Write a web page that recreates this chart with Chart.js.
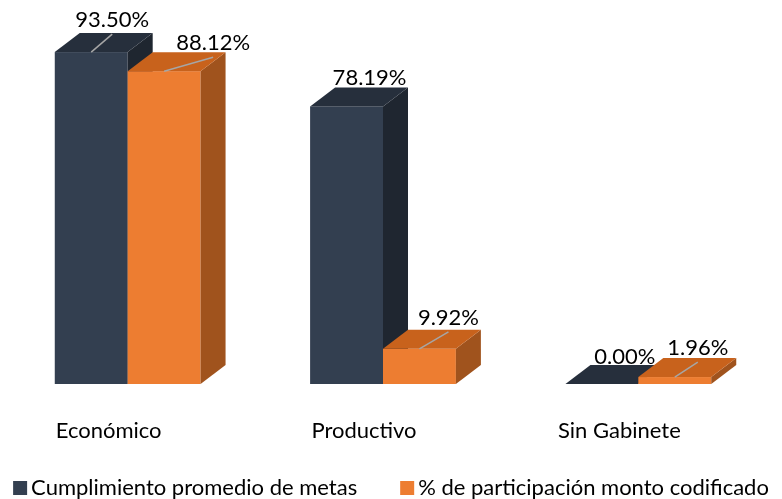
<!DOCTYPE html>
<html lang="es">
<head>
    <meta charset="UTF-8">
    <title>Cumplimiento por gabinete</title>
    <script src="https://cdn.jsdelivr.net/npm/chart.js"></script>
    <style>
        body { margin: 0; background: #fff; }
        #wrap { width: 782px; height: 499px; }
    </style>
</head>
<body>
    <div id="wrap"><canvas id="chart"></canvas></div>

    <script>
        const categories = ['Económico', 'Productivo', 'Sin Gabinete'];
        const cumplimiento = [93.50, 78.19, 0.00];
        const participacion = [88.12, 9.92, 1.96];
        const seriesNames = ['Cumplimiento promedio de metas', '% de participación monto codificado'];

        const FONT = 'Lato, "Open Sans", sans-serif';

        // colores de cada serie: frente, tapa, costado
        const faces = [
            { front: '#333f50', top: '#262f3c', side: '#1f2630' },
            { front: '#ed7d31', top: '#c8621c', side: '#a0531d' }
        ];
        const DEPTH_X = 25, DEPTH_Y = 19;

        // desplazamiento de cada etiqueta respecto al centro/tope de la barra, y si lleva línea guía
        const labelShift = [
            [[21, -32, true], [23, -29, false], [23, -27, false]],
            [[49, -28, true], [29, -31, true], [23, -29, true]]
        ];

        const fmt = v => v.toFixed(2) + '%';

        // dibuja las barras como prismas (frente, tapa y costado), categoría por categoría
        const bar3d = {
            id: 'bar3d',
            beforeDatasetsDraw(chart) {
                const ctx = chart.ctx;
                const metas = chart.data.datasets.map((d, k) => chart.getDatasetMeta(k));
                ctx.save();
                for (let i = 0; i < categories.length; i++) {
                    metas.forEach((meta, k) => {
                        const el = meta.data[i];
                        const l = el.x - el.width / 2, r = el.x + el.width / 2;
                        const t = el.y, b = el.base;
                        const c = faces[k];
                        ctx.fillStyle = c.front;
                        ctx.fillRect(l, t, r - l, b - t);
                        ctx.fillStyle = c.side;
                        ctx.beginPath();
                        ctx.moveTo(r, t);
                        ctx.lineTo(r + DEPTH_X, t - DEPTH_Y);
                        ctx.lineTo(r + DEPTH_X, b - DEPTH_Y);
                        ctx.lineTo(r, b);
                        ctx.closePath();
                        ctx.fill();
                        ctx.fillStyle = c.top;
                        ctx.beginPath();
                        ctx.moveTo(l, t);
                        ctx.lineTo(l + DEPTH_X, t - DEPTH_Y);
                        ctx.lineTo(r + DEPTH_X, t - DEPTH_Y);
                        ctx.lineTo(r, t);
                        ctx.closePath();
                        ctx.fill();
                    });
                }
                ctx.restore();
                return false;
            },
            afterDraw(chart) {
                const ctx = chart.ctx;
                ctx.save();
                // etiquetas de valor
                ctx.font = '22px ' + FONT;
                ctx.textAlign = 'center';
                ctx.textBaseline = 'middle';
                chart.data.datasets.forEach((ds, k) => {
                    chart.getDatasetMeta(k).data.forEach((el, i) => {
                        const [dx, dy, guide] = labelShift[k][i];
                        const lx = el.x + dx, ly = el.y + dy;
                        if (guide) {
                            ctx.strokeStyle = '#a6a6a6';
                            ctx.lineWidth = 1.5;
                            ctx.beginPath();
                            ctx.moveTo(el.x, el.y);
                            ctx.lineTo(lx, ly + 14);
                            ctx.stroke();
                        }
                        ctx.fillStyle = '#000';
                        ctx.fillText(fmt(ds.data[i]), lx, ly);
                    });
                });
                // nombres de categoría
                const xs = chart.scales.x;
                categories.forEach((name, i) => {
                    ctx.fillText(name, xs.getPixelForValue(i) - 19, 431);
                });
                // leyenda
                const box = 14, gapText = 4, gapItem = 43;
                const widths = seriesNames.map(n => box + gapText + ctx.measureText(n).width);
                let x = (chart.width - widths[0] - widths[1] - gapItem) / 2;
                ctx.textAlign = 'left';
                seriesNames.forEach((n, k) => {
                    ctx.fillStyle = faces[k].front;
                    ctx.fillRect(x, 481, box, box);
                    ctx.fillStyle = '#000';
                    ctx.fillText(n, x + box + gapText, 488);
                    x += widths[k] + gapItem;
                });
                ctx.restore();
            }
        };

        new Chart(document.getElementById('chart'), {
            type: 'bar',
            data: {
                labels: categories,
                datasets: [
                    { label: seriesNames[0], data: cumplimiento, backgroundColor: faces[0].front },
                    { label: seriesNames[1], data: participacion, backgroundColor: faces[1].front }
                ]
            },
            options: {
                responsive: true,
                maintainAspectRatio: false,
                animation: false,
                layout: { padding: { top: 29, bottom: 115, left: 0, right: 16 } },
                categoryPercentage: 0.571,
                barPercentage: 1,
                scales: {
                    x: { display: false },
                    y: { display: false, min: 0, max: 100 }
                },
                plugins: {
                    legend: { display: false },
                    tooltip: { enabled: false }
                }
            },
            plugins: [bar3d]
        });
    </script>
</body>
</html>
